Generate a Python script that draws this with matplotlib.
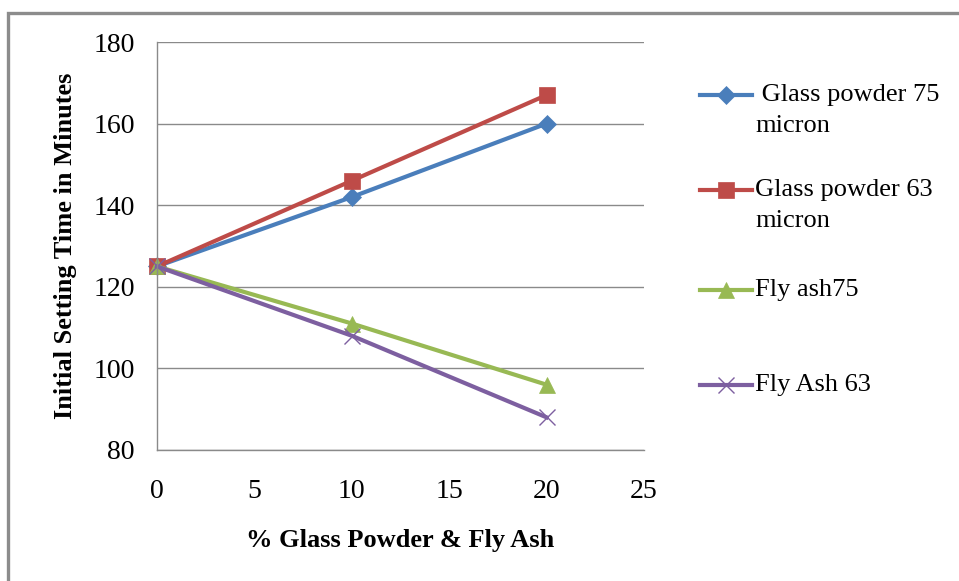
import matplotlib.pyplot as plt
from matplotlib.lines import Line2D
from matplotlib.patches import Rectangle

plt.rcParams['font.family'] = ['Liberation Serif', 'DejaVu Serif']

pct = [0, 10, 20]
glass75 = [125, 142, 160]
glass63 = [125, 146, 167]
fly75 = [125, 111, 96]
fly63 = [125, 108, 88]

labels = [' Glass powder 75\nmicron', 'Glass powder 63\nmicron', 'Fly ash75', 'Fly Ash 63']
colors = ['#4A7EBB', '#BE4B48', '#98B954', '#7D5FA0']
markers = ['D', 's', '^', 'x']
msizes = [9, 12, 12, 12]

fig = plt.figure(figsize=(9.59, 5.81), dpi=100)
ax = fig.add_axes([0.1637, 0.2255, 0.5078, 0.7022])

series = [glass75, glass63, fly75, fly63]
for vals, c, m, ms in zip(series, colors, markers, msizes):
    ax.plot(pct, vals, color=c, lw=3, marker=m, markersize=ms,
            markeredgewidth=1.0 if m == 'x' else 0.5, markeredgecolor=c,
            clip_on=False)

ax.set_xlim(0, 25)
ax.set_ylim(80, 180)
ax.set_xticks(range(0, 26, 5))
ax.set_yticks(range(80, 181, 20))
ax.grid(axis='y', color='#8a8a8a', lw=1)
ax.set_axisbelow(True)
for s in ['top', 'right']:
    ax.spines[s].set_visible(False)
for s in ['left', 'bottom']:
    ax.spines[s].set_color('#8a8a8a')
    ax.spines[s].set_linewidth(1)
ax.tick_params(axis='both', length=0, labelsize=20)
ax.tick_params(axis='y', pad=16)
ax.tick_params(axis='x', pad=21)

ax.set_xlabel('% Glass Powder & Fly Ash', fontsize=19, fontweight='bold', labelpad=18)
ax.set_ylabel('Initial Setting Time in Minutes', fontsize=19, fontweight='bold', labelpad=12)

# legend drawn by hand to match the Excel layout (handle level with first text line)
leg_y = [1 - 95 / 581, 1 - 190 / 581, 1 - 290 / 581, 1 - 385 / 581]
for y, lab, c, m, ms in zip(leg_y, labels, colors, markers, msizes):
    fig.add_artist(Line2D([700 / 959, 752 / 959], [y, y], transform=fig.transFigure,
                          color=c, lw=3))
    fig.add_artist(Line2D([726 / 959], [y], transform=fig.transFigure, color=c,
                          marker=m, markersize=ms, markeredgecolor=c,
                          markeredgewidth=1.0 if m == 'x' else 0.5))
    lines = lab.split('\n')
    for i, t in enumerate(lines):
        fig.text(755 / 959, y - i * 31 / 581, t, fontsize=19, va='center', ha='left')

fig.add_artist(Rectangle((8 / 959, -0.05), 1.0, 1.05 - 13 / 581, transform=fig.transFigure,
                         fill=False, edgecolor='#8c8c8c', lw=2.4))

fig.savefig('out.png', dpi=100)
